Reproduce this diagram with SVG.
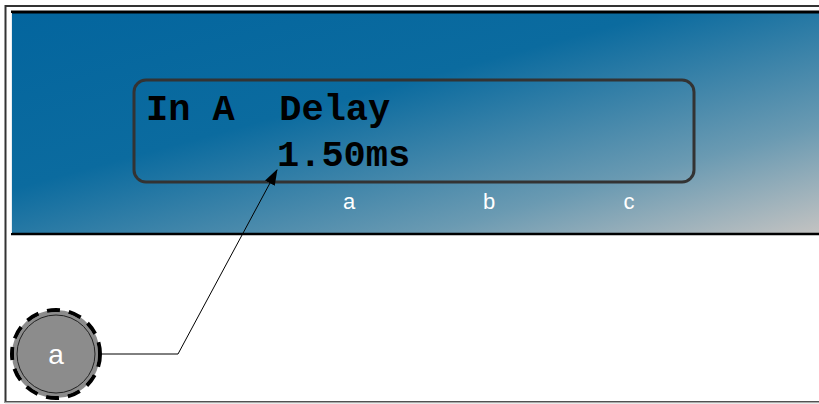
<svg xmlns="http://www.w3.org/2000/svg" width="819" height="404" viewBox="0 0 819 404">
<style>
.lcd{font-family:"Liberation Mono","Courier New",monospace;font-weight:bold;font-size:37px;fill:#000}
.lbl{font-family:"Liberation Sans",Arial,sans-serif;font-size:22px;fill:#fff;text-anchor:middle}
</style>
<defs>
<linearGradient id="bg" x1="0" y1="0" x2="1" y2="1" gradientUnits="objectBoundingBox">
<stop offset="0" stop-color="#03659e"/>
<stop offset="0.4" stop-color="#0b6b9f"/>
<stop offset="0.75" stop-color="#6a9ab2"/>
<stop offset="1" stop-color="#c6c4c2"/>
</linearGradient>
<marker id="arr" markerWidth="16" markerHeight="12" refX="15" refY="5.5" orient="auto" markerUnits="userSpaceOnUse" viewBox="0 0 16 11">
<path d="M0,0 L16,5.5 L0,11 z" fill="#000"/>
</marker>
</defs>
<rect x="0" y="0" width="819" height="404" fill="#fff"/>
<g id="frame">
<rect x="5.5" y="6" width="830" height="396" fill="none" stroke="#333" stroke-width="2"/>
<line x1="5" y1="402.5" x2="819" y2="402.5" stroke="#aaa" stroke-width="1.5"/>
</g>
<g id="panel">
<rect x="11" y="11" width="820" height="223" fill="url(#bg)"/>
<line x1="11" y1="12" x2="819" y2="12" stroke="#000" stroke-width="3"/>
<line x1="11" y1="234" x2="819" y2="234" stroke="#000" stroke-width="2.5"/>
<line x1="11.5" y1="13" x2="11.5" y2="233" stroke="#e8eef2" stroke-width="1"/>
</g>
<g id="display">
<rect x="134" y="80" width="560" height="102" rx="12" ry="12" fill="none" stroke="#333" stroke-width="3"/>
<text class="lcd" x="146" y="120" xml:space="preserve">In A  Delay</text>
<text class="lcd" x="277" y="166">1.50ms</text>
</g>
<g id="labels">
<text class="lbl" x="349" y="209">a</text>
<text class="lbl" x="489" y="209">b</text>
<text class="lbl" x="629" y="209">c</text>
</g>
<g id="connectors">
<polyline points="101,354 178,354 277,170" fill="none" stroke="#000" stroke-width="1" marker-end="url(#arr)"/>
</g>
<g id="node-a">
<circle cx="56" cy="354" r="44" fill="#8c8c8c" stroke="#000" stroke-width="4" stroke-dasharray="13,9"/>
<circle cx="56" cy="354" r="40" fill="#8c8c8c" stroke="#8c8c8c" stroke-width="4"/>
<circle cx="56" cy="354" r="39" fill="#8c8c8c" stroke="#222" stroke-width="1"/>
<text x="56" y="364" font-family="Liberation Sans, Arial, sans-serif" font-size="28" fill="#fff" text-anchor="middle">a</text>
</g>
</svg>
